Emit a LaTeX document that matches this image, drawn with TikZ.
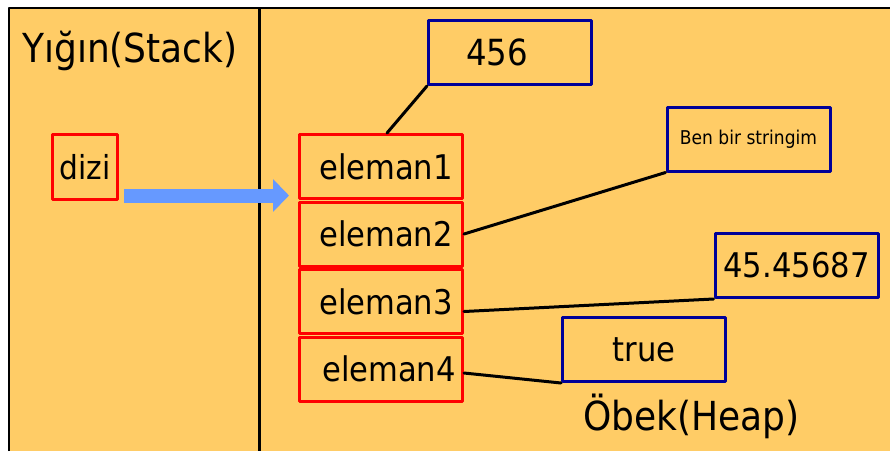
\documentclass[tikz,border=0pt]{standalone}
\usepackage{fontspec}
\setmainfont{DejaVu Sans}[FakeStretch=0.9]
\usetikzlibrary{positioning,arrows.meta}
\definecolor{obek}{RGB}{255,204,102}
\definecolor{koyumavi}{RGB}{0,0,153}
\definecolor{okmavi}{RGB}{102,153,255}
\tikzset{
  kutu/.style={draw=red, line width=3pt, minimum width=163pt, minimum height=64pt, inner sep=0pt, font=\fontsize{34}{40}\selectfont},
  deger/.style={draw=koyumavi, line width=3pt, minimum width=163pt, minimum height=64pt, inner sep=0pt, font=\fontsize{34}{40}\selectfont},
  bag/.style={black, line width=3pt, line cap=round},
  baslik/.style={anchor=base west, inner sep=0pt, font=\fontsize{40}{48}\selectfont},
}
\begin{document}
\begin{tikzpicture}[x=1pt, y=-1pt, line join=round]

            \useasboundingbox (0,0) rectangle (890,451);
            \clip (0,0) rectangle (890,451);

            % Fond et cadre
            \fill[obek] (9,8) rectangle (890,451);
            \draw[black, line width=2pt] (9,451) -- (9,8) -- (890,8);
            \draw[black, line width=3pt] (259,8) -- (259,451); % separation

            % Titres
            \node[baslik] (yigin) at (22,62) {Yığın(Stack)};
            \node[baslik] (heap) at (583,430) {Öbek(Heap)};

            % Stack
            \node[kutu, minimum width=65pt, minimum height=65pt, font=\fontsize{33}{40}\selectfont] (dizi) at (85,167) {dizi};

            % Tableau dans le heap
            \node[kutu] (e1) at (381,166.5) {\hspace{10pt}eleman1};
            \node[kutu, below=0.5pt of e1] (e2) {\hspace{10pt}eleman2};
            \node[kutu, below=0.5pt of e2] (e3) {\hspace{10pt}eleman3};
            \node[kutu, below=0.5pt of e3] (e4) {\hspace{16pt}eleman4};

            % Valeurs
            \node[deger, font=\fontsize{36}{42}\selectfont] (v1) at (510,52.5) {456\kern26pt};
            \node[deger, font=\fontsize{19}{23}\selectfont] (v2) at (748.5,139) {Ben bir stringim};
            \node[deger] (v3) at (796.5,265.5) {45.45687};
            \node[deger] (v4) at (644,349.5) {true};

            % Reference
            \draw[okmavi, line width=14pt, -{Triangle[length=16pt, width=32pt]}]
                ([xshift=5pt, yshift=5.5pt]dizi.south east) -- ([xshift=-9pt, yshift=4.5pt]e1.south west);

            % Liens
            \draw[bag] ([xshift=6pt]e1.north) -- (v1.south west);
            \draw[bag] (e2.east) -- (v2.south west);
            \draw[bag] ([yshift=-10pt]e3.east) -- (v3.south west);
            \draw[bag] ([yshift=-4pt]e4.east) -- (v4.south west);

\end{tikzpicture}
\end{document}
